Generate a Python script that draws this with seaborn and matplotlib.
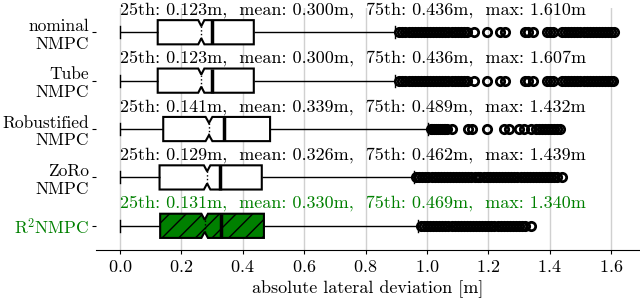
import numpy as np
import pandas as pd
import matplotlib
matplotlib.use("Agg")
import matplotlib.pyplot as plt
import seaborn as sns

# controllers (top to bottom)
controllers = ["nominal\nNMPC", "Tube\nNMPC", "Robustified\nNMPC", "ZoRo\nNMPC", "R$^2$NMPC"]

# summary values [m]
lower_whisker = [0.0, 0.0, 0.0, 0.0, 0.0]
q25 = [0.123, 0.123, 0.141, 0.129, 0.131]
median = [0.265, 0.265, 0.290, 0.284, 0.276]
mean = [0.300, 0.300, 0.339, 0.326, 0.330]
q75 = [0.436, 0.436, 0.489, 0.462, 0.469]
upper_whisker = [0.896, 0.896, 1.005, 0.958, 0.972]
maximum = [1.610, 1.607, 1.432, 1.439, 1.340]

# outliers (approx. positions of the circles)
nominal_out = [0.91, 0.92, 0.93, 0.94, 0.95, 0.96, 0.97, 0.98, 0.99, 1.00, 1.01, 1.02,
               1.03, 1.04, 1.05, 1.06, 1.07, 1.08, 1.09, 1.10, 1.11, 1.12, 1.13,
               1.153, 1.195, 1.238, 1.254, 1.32, 1.33, 1.345, 1.39, 1.40, 1.41,
               1.44, 1.45, 1.46, 1.47, 1.48, 1.49, 1.50, 1.51, 1.52, 1.53, 1.54,
               1.55, 1.56, 1.57, 1.58, 1.59, 1.60, 1.61]
tube_out = [0.91, 0.92, 0.93, 0.94, 0.95, 0.96, 0.97, 0.98, 0.99, 1.00, 1.01, 1.02,
            1.03, 1.04, 1.05, 1.06, 1.07, 1.08, 1.09, 1.10, 1.11, 1.12, 1.13,
            1.153, 1.195, 1.238, 1.254, 1.32, 1.33, 1.345, 1.39, 1.40, 1.41,
            1.44, 1.45, 1.46, 1.47, 1.48, 1.49, 1.50, 1.51, 1.52, 1.53, 1.54,
            1.55, 1.56, 1.57, 1.58, 1.59, 1.60, 1.607]
robust_out = [1.012, 1.018, 1.024, 1.03, 1.036, 1.042, 1.048, 1.054, 1.06, 1.066,
              1.081, 1.134, 1.147, 1.195, 1.25, 1.268, 1.30, 1.315, 1.338,
              1.355, 1.365, 1.375, 1.385, 1.395, 1.405, 1.415, 1.425, 1.432]
zoro_out = [0.965, 0.975, 0.983, 0.995, 1.005, 1.015, 1.025, 1.035, 1.045, 1.055,
            1.065, 1.075, 1.085, 1.095, 1.105, 1.115, 1.125, 1.135, 1.145, 1.155,
            1.165, 1.173, 1.185, 1.195, 1.205, 1.215, 1.225, 1.235, 1.245, 1.255,
            1.265, 1.275, 1.285, 1.293, 1.305, 1.315, 1.325, 1.335, 1.345, 1.355,
            1.365, 1.375, 1.385, 1.395, 1.405, 1.415, 1.425, 1.439]
r2_out = [0.98, 0.99, 1.00, 1.01, 1.02, 1.03, 1.04, 1.05, 1.06, 1.07, 1.08, 1.09,
          1.10, 1.11, 1.12, 1.13, 1.14, 1.15, 1.16, 1.17, 1.18, 1.19, 1.20, 1.21,
          1.22, 1.23, 1.24, 1.25, 1.26, 1.27, 1.28, 1.29, 1.30, 1.31, 1.32, 1.34]
outliers = [nominal_out, tube_out, robust_out, zoro_out, r2_out]

box_colors = ["white", "white", "white", "white", "green"]
text_colors = ["black", "black", "black", "black", "green"]


def sample_from_summary(lo, q1, med, q3, hi, mu, out, a=400, b=600):
    # blocks of repeated summary values so that quartiles, whiskers and mean
    # come out; the count at the whisker end sets the mean
    m = len(out)
    d = round((mu * (a + 3 * b + m) - a * lo - b * (q1 + med + q3) - sum(out)) / (hi - mu))
    return [lo] * a + [q1] * b + [med] * b + [q3] * b + [hi] * d + list(out)


rows = []
for i, name in enumerate(controllers):
    vals = sample_from_summary(lower_whisker[i], q25[i], median[i], q75[i],
                               upper_whisker[i], mean[i], outliers[i])
    rows.append(pd.DataFrame({"controller": name, "deviation": vals}))
df = pd.concat(rows, ignore_index=True)

plt.rcParams["font.family"] = "cmr10"
plt.rcParams["mathtext.fontset"] = "cm"
plt.rcParams["axes.formatter.use_mathtext"] = True
plt.rcParams["font.size"] = 12.5
plt.rcParams["hatch.linewidth"] = 1.0

fig = plt.figure(figsize=(6.4, 2.98), dpi=100)
ax = fig.add_axes([0.15, 0.161, 0.85, 0.812])

sns.boxplot(data=df, x="deviation", y="controller", hue="controller", order=controllers,
            hue_order=controllers, palette=dict(zip(controllers, box_colors)),
            saturation=1, legend=False, orient="h", width=0.5, notch=True,
            showmeans=True, meanline=True, linecolor="black", linewidth=1.0,
            boxprops=dict(linewidth=1.5),
            meanprops=dict(color="black", linestyle="-", linewidth=2.5),
            medianprops=dict(color="black", linestyle=":", linewidth=1.0),
            flierprops=dict(marker="o", markerfacecolor="none", markeredgecolor="black",
                            markeredgewidth=2.0),
            fliersize=6, ax=ax)

for patch, col in zip(ax.patches, box_colors):
    if col == "green":
        patch.set_hatch("//")

for i, name in enumerate(controllers):
    label = (f"25th: {q25[i]:.3f}m,  mean: {mean[i]:.3f}m,  "
             f"75th: {q75[i]:.3f}m,  max: {maximum[i]:.3f}m")
    ax.text(0.0, i - 0.37, label, ha="left", va="baseline", fontsize=13.0,
            color=text_colors[i], clip_on=False)

ax.set_xlim(-0.078, 1.694)
ax.set_ylim(4.5, -0.5)
ax.set_xticks([0.0, 0.2, 0.4, 0.6, 0.8, 1.0, 1.2, 1.4, 1.6])
ax.set_xlabel("absolute lateral deviation [m]", fontsize=13)
ax.set_ylabel("")
ax.grid(axis="x", color="#d0d0d0", linewidth=1.0)
ax.set_axisbelow(True)
sns.despine(ax=ax, left=True)
ax.tick_params(axis="y", length=3, pad=2, labelsize=12.5)
ax.tick_params(axis="x", length=3, labelsize=13)
ax.get_yticklabels()[4].set_color("green")

fig.savefig("out.png", dpi=100)
